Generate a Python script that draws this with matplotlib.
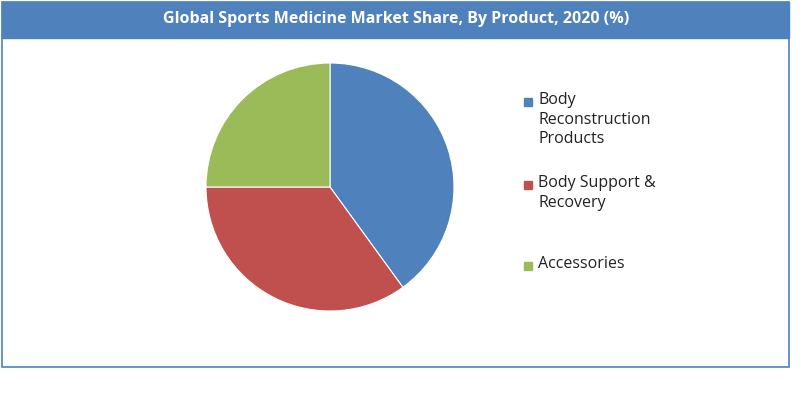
import matplotlib
matplotlib.use("Agg")
import matplotlib.pyplot as plt
from matplotlib.patches import Rectangle

categories = ["Body\nReconstruction\nProducts", "Body Support &\nRecovery", "Accessories"]
shares = [40, 35, 25]
colors = ["#4F81BD", "#C0504D", "#9BBB59"]
title = "Global Sports Medicine Market Share, By Product, 2020 (%)"

W, H = 800, 412
fig = plt.figure(figsize=(8, 4.12), dpi=100)
plt.rcParams['font.family'] = ['Open Sans', 'DejaVu Sans']

def fx(x): return x / W
def fy(y): return 1 - y / H

fig.patches.append(Rectangle((fx(2), fy(367)), fx(787), 365 / H, transform=fig.transFigure,
                             fill=False, edgecolor="#4F81BD", linewidth=1.2))
fig.patches.append(Rectangle((fx(2), fy(38)), fx(787), 36 / H, transform=fig.transFigure,
                             facecolor="#4F81BD", edgecolor="#4F81BD"))
fig.text(fx(396), fy(19), title, color="white", fontsize=11.5, fontweight="bold",
         ha="center", va="center")

ax = fig.add_axes([fx(206), fy(311), fx(248), 248 / H])
ax.pie(shares, colors=colors, startangle=90, counterclock=False,
       wedgeprops=dict(edgecolor="white", linewidth=0.8))
ax.set_xlim(-1, 1)
ax.set_ylim(-1, 1)
ax.set_aspect("equal")

tops = [92, 175, 256]
for lab, c, t in zip(categories, colors, tops):
    fig.patches.append(Rectangle((fx(524), fy(t + 14)), fx(8), 8 / H, transform=fig.transFigure,
                                 facecolor=c, edgecolor=c))
    fig.text(fx(538), fy(t), lab, fontsize=11.5, va="top", ha="left", color="#222222",
             linespacing=1.3)

fig.savefig("out.png", dpi=100)
